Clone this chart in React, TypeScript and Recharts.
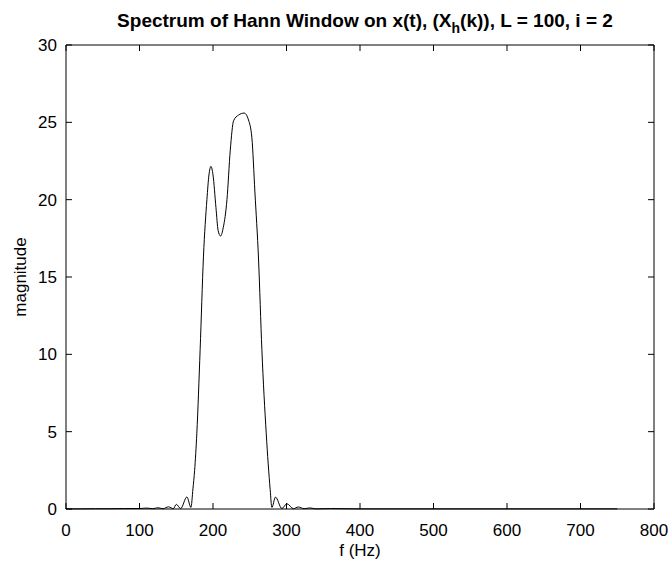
import { LineChart, Line, XAxis, YAxis, ReferenceLine, Customized } from 'recharts';

// Hann window spectrum
const freqHz = [
  0, 20, 40, 60, 80, 100, 110, 118, 125, 132, 139.5, 146, 150, 156, 164.5, 170, 172.7, 175, 178, 182.5,
  187, 191.7, 194.5, 197.2, 200, 204, 207, 210.3, 214, 219, 223.5, 228, 234.7, 242.5, 248.3, 252.9, 257,
  262, 266.5, 272.4, 277.8, 280.1, 285, 293.7, 300.5, 309.5, 316, 324, 332, 340, 360, 400, 500, 600, 700, 750,
];
const magnitude = [
  0.01, 0.01, 0.02, 0.02, 0.03, 0.03, 0.06, 0.02, 0.08, 0.02, 0.14, 0.02, 0.3, 0.03, 0.78, 0.1, 1.3, 2.5, 4.9, 10.3,
  16.3, 20.0, 21.6, 22.15, 21.6, 19.5, 18.0, 17.65, 18.2, 20.0, 23.2, 25.1, 25.47, 25.6, 25.15, 24.0, 20.5,
  16.1, 10.3, 4.9, 1.25, 0.1, 0.77, 0.03, 0.34, 0.02, 0.13, 0.02, 0.07, 0.01, 0.03, 0.01, 0.01, 0.01, 0.01, 0.01,
];
const xTicks = [0, 100, 200, 300, 400, 500, 600, 700, 800];
const yTicks = [0, 5, 10, 15, 20, 25, 30];

const X_MAX = 800;
const Y_MAX = 30;

// plot box, from the chart margins and axis sizes below
const LEFT = 66;
const TOP = 45;
const RIGHT = 670 - 16;
const BOTTOM = 569 - 60;
const TICK = 6;

const data = freqHz.map((f, i) => ({ f, m: magnitude[i] }));

const font = 'Liberation Sans, Arial, Helvetica, sans-serif';
const tickStyle = { fill: '#000', fontSize: 17, fontFamily: font };

const px = (v: number) => LEFT + (v / X_MAX) * (RIGHT - LEFT);
const py = (v: number) => BOTTOM - (v / Y_MAX) * (BOTTOM - TOP);

// inward tick marks on all four sides of the box
const TickMarks = () => (
  <g stroke="#000" strokeWidth={1}>
    {xTicks.map((t) => (
      <g key={`x${t}`}>
        <line x1={px(t)} y1={BOTTOM} x2={px(t)} y2={BOTTOM - TICK} />
        <line x1={px(t)} y1={TOP} x2={px(t)} y2={TOP + TICK} />
      </g>
    ))}
    {yTicks.map((t) => (
      <g key={`y${t}`}>
        <line x1={LEFT} y1={py(t)} x2={LEFT + TICK} y2={py(t)} />
        <line x1={RIGHT} y1={py(t)} x2={RIGHT - TICK} y2={py(t)} />
      </g>
    ))}
  </g>
);

const Labels = () => (
  <g fontFamily={font} fill="#000">
    <text x={365} y={27} textAnchor="middle" fontSize={19} fontWeight="bold">
      Spectrum of Hann Window on x(t), (X
      <tspan dy={6} fontSize={14}>h</tspan>
      <tspan dy={-6}>(k)), L = 100, i = 2</tspan>
    </text>
    <text x={360} y={556} textAnchor="middle" fontSize={17}>
      f (Hz)
    </text>
    <text x={26} y={277} textAnchor="middle" fontSize={17} transform="rotate(-90 26 277)">
      magnitude
    </text>
  </g>
);

export default function App() {
  return (
    <div style={{ position: 'absolute', left: 0, top: 0, background: '#fff' }}>
      <LineChart width={670} height={569} data={data} margin={{ top: TOP, right: 16, bottom: 0, left: 0 }}>
        <XAxis
          dataKey="f"
          type="number"
          domain={[0, X_MAX]}
          ticks={xTicks}
          interval={0}
          height={60}
          tickSize={0}
          tickMargin={15}
          axisLine={{ stroke: '#000' }}
          tickLine={false}
          tick={tickStyle}
        />
        <YAxis
          type="number"
          domain={[0, Y_MAX]}
          ticks={yTicks}
          interval={0}
          width={LEFT}
          tickSize={0}
          tickMargin={9}
          axisLine={{ stroke: '#000' }}
          tickLine={false}
          tick={tickStyle}
        />
        {/* box: top and right edges */}
        <ReferenceLine y={Y_MAX} stroke="#000" />
        <ReferenceLine x={X_MAX} stroke="#000" />
        <Line
          type="monotone"
          dataKey="m"
          stroke="#000"
          strokeWidth={1}
          dot={false}
          activeDot={false}
          isAnimationActive={false}
        />
        <Customized component={TickMarks} />
        <Customized component={Labels} />
      </LineChart>
    </div>
  );
}
